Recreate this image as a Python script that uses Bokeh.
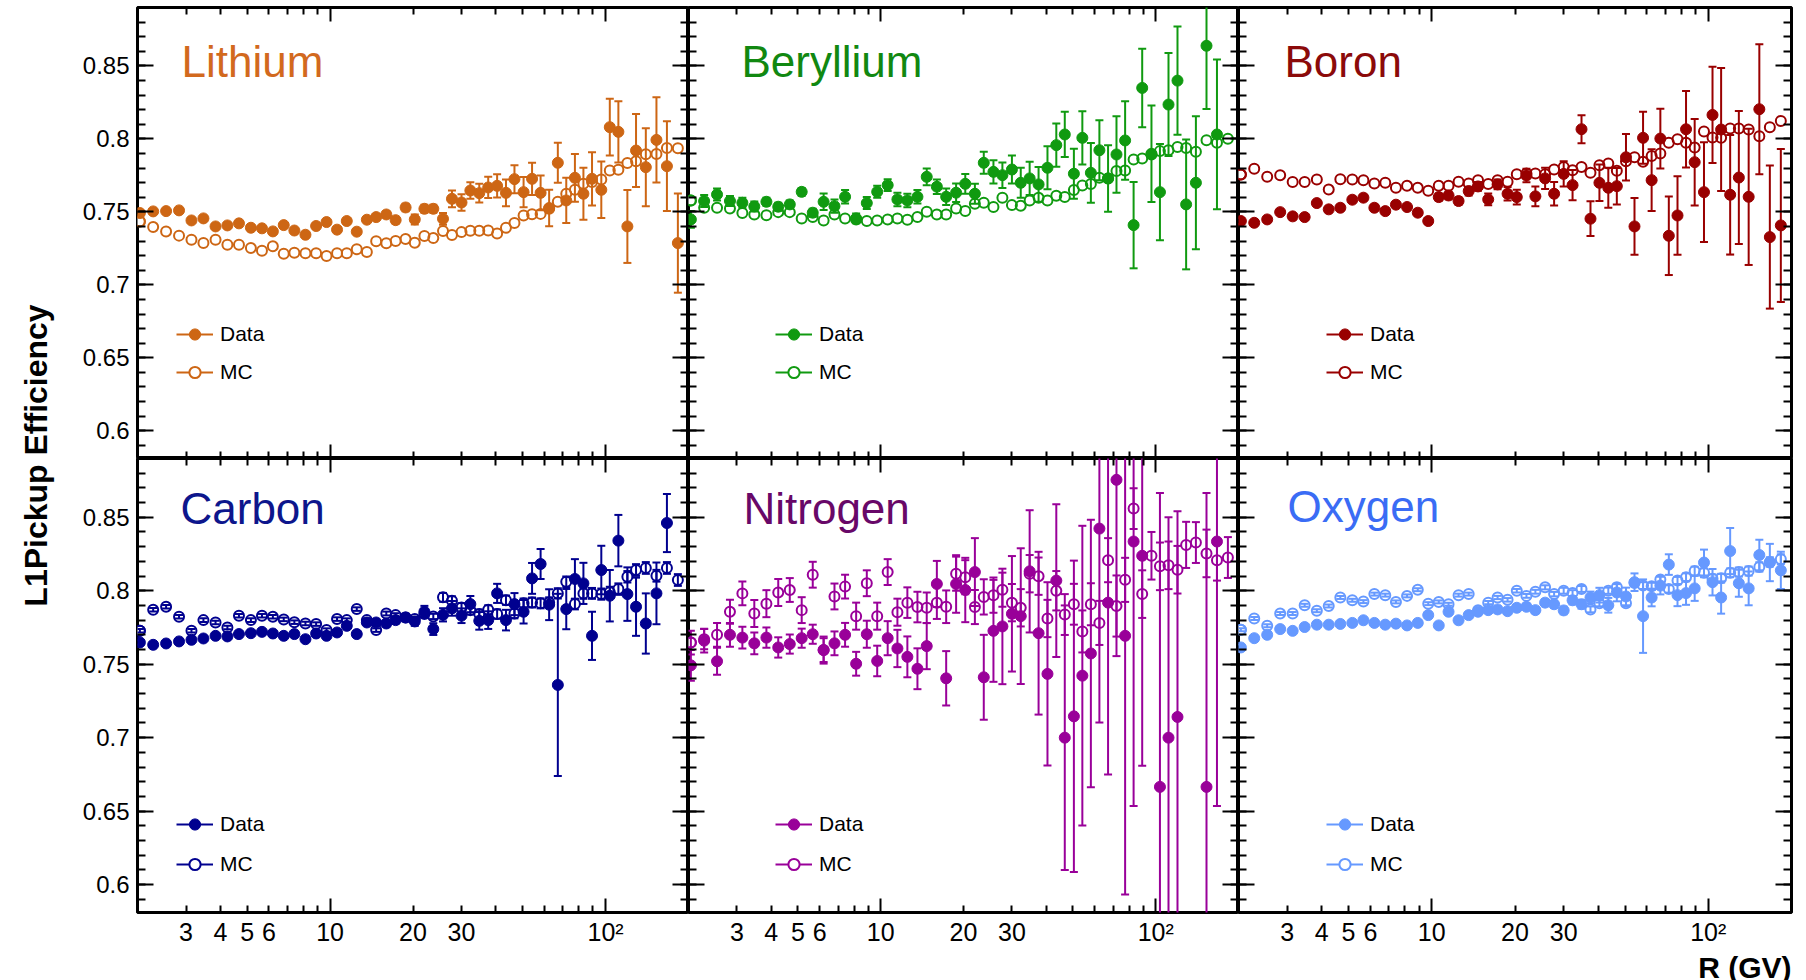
import math
import numpy as np
from bokeh.plotting import figure
from bokeh.layouts import gridplot, row
from bokeh.models import (LogAxis, LinearAxis, FixedTicker, Range1d, Legend,
                          LegendItem, Title, AllLabels)
from bokeh.core.properties import value
from bokeh.embed import file_html
from bokeh.resources import INLINE

nan = float("nan")

# ---------------- data ----------------
R = [2.04, 2.28, 2.54, 2.83, 3.14, 3.47, 3.84, 4.24, 4.67, 5.16,
     5.66, 6.20, 6.79, 7.42, 8.14, 8.90, 9.71, 10.6, 11.5, 12.5,
     13.6, 14.7, 16.0, 17.3, 18.8, 20.3, 22.0, 23.7, 25.7, 27.7,
     30.0, 32.3, 34.8, 37.5, 40.4, 43.5, 46.7, 50.4, 54.1, 58.1,
     62.4, 67.1, 72.0, 77.4, 83.1, 89.3, 96.5, 103.6, 111.3, 120,
     129, 140, 153, 167, 183]

li_mc = [0.7434, 0.7396, 0.7366, 0.7337, 0.7309, 0.7286, 0.7309, 0.7275, 0.7275, 0.7252,
         0.7234, 0.7264, 0.7213, 0.7220, 0.7216, 0.7216, 0.7197, 0.7216, 0.7216, 0.7243,
         0.7225, 0.7298, 0.7284, 0.7300, 0.7314, 0.7289, 0.7334, 0.7320, 0.7368, 0.7341,
         0.7361, 0.7370, 0.7370, 0.7372, 0.7352, 0.7391, 0.7423, 0.7475, 0.7484, 0.7486,
         0.7521, 0.7569, 0.7624, 0.7651, 0.7692, 0.7704, 0.7722, 0.7783, 0.7788, 0.7834,
         0.7847, 0.7895, 0.7897, 0.7938, 0.7936]
li_data = [0.7492, 0.7503, 0.7505, 0.7510, 0.7441, 0.7455, 0.7400, 0.7407, 0.7421, 0.7391,
           0.7387, 0.7366, 0.7409, 0.7372, 0.7343, 0.7403, 0.7430, 0.7378, 0.7437, 0.7364,
           0.7446, 0.7464, 0.7482, 0.7443, 0.7530, 0.7448, 0.7521, 0.7521, 0.7452, 0.7589,
           0.7564, 0.7646, 0.7628, 0.7667, 0.7678, 0.7630, 0.7724, 0.7635, 0.7726, 0.7630,
           0.7526, 0.7836, 0.7578, 0.7733, 0.7624, 0.7726, 0.7651, 0.8080, 0.8048, 0.7400,
           0.7920, 0.7806, 0.7993, 0.7813, 0.7286]
li_derr = [0.0016, 0.0015, 0.0015, 0.0015, 0.0015, 0.0015, 0.0015, 0.0015, 0.0015, 0.0015,
           0.0015, 0.0015, 0.0015, 0.0015, 0.0016, 0.0016, 0.0016, 0.0017, 0.0018, 0.0018,
           0.0019, 0.0020, 0.0022, 0.0024, 0.0026, 0.0034, 0.0027, 0.0027, 0.0040, 0.0057,
           0.0057, 0.0057, 0.0064, 0.0073, 0.0080, 0.0091, 0.0096, 0.0103, 0.0110, 0.0119,
           0.0125, 0.0137, 0.0155, 0.0164, 0.0178, 0.0182, 0.0194, 0.0194, 0.0210, 0.0250,
           0.0250, 0.0267, 0.0292, 0.0308, 0.0340]

be_mc = [0.7578, 0.7528, 0.7528, 0.7523, 0.7492, 0.7482, 0.7476, 0.7498, 0.7498, 0.7455,
         0.7464, 0.7441, 0.7482, 0.7455, 0.7448, 0.7437, 0.7441, 0.7448, 0.7455, 0.7446,
         0.7464, 0.7501, 0.7482, 0.7482, 0.7523, 0.7505, 0.7555, 0.7562, 0.7533, 0.7596,
         0.7546, 0.7542, 0.7578, 0.7596, 0.7578, 0.7610, 0.7601, 0.7649, 0.7681, 0.7690,
         0.7733, 0.7729, 0.7779, 0.7783, 0.7859, 0.7865, 0.7893, 0.7916, 0.7922, 0.7945,
         0.7938, 0.7911, 0.7991, 0.7973, 0.8000]
be_data = [0.7448, 0.7574, 0.7619, 0.7574, 0.7562, 0.7537, 0.7569, 0.7535, 0.7551, 0.7637,
           0.7494, 0.7569, 0.7539, 0.7603, 0.7455, 0.7560, 0.7637, 0.7683, 0.7585, 0.7578,
           0.7603, 0.7740, 0.7672, 0.7603, 0.7631, 0.7692, 0.7624, 0.7836, 0.7774, 0.7751,
           0.7790, 0.7699, 0.7729, 0.7688, 0.7802, 0.7957, 0.8030, 0.7761, 0.8007, 0.7767,
           0.7922, 0.7729, 0.7893, 0.7989, 0.7409, 0.8349, 0.7898, 0.7635, 0.8235, 0.8399,
           0.7551, 0.7699, 0.8638, 0.8030, nan]
be_derr = [0.0057, 0.0041, 0.0041, 0.0034, 0.0034, 0.0034, 0.0027, 0.0027, 0.0027, 0.0027,
           0.0027, 0.0057, 0.0046, 0.0046, 0.0034, 0.0041, 0.0041, 0.0041, 0.0046, 0.0046,
           0.0046, 0.0057, 0.0050, 0.0057, 0.0064, 0.0068, 0.0068, 0.0075, 0.0080, 0.0087,
           0.0096, 0.0103, 0.0114, 0.0119, 0.0148, 0.0148, 0.0155, 0.0171, 0.0182, 0.0205,
           0.0205, 0.0228, 0.0262, 0.0269, 0.0296, 0.0269, 0.0330, 0.0330, 0.0353, 0.0370,
           0.0445, 0.0456, 0.0433, 0.0513, nan]

b_mc = [0.7756, 0.7795, 0.7740, 0.7751, 0.7704, 0.7704, 0.7722, 0.7653, 0.7724, 0.7722,
        0.7717, 0.7694, 0.7699, 0.7665, 0.7679, 0.7665, 0.7645, 0.7679, 0.7679, 0.7706,
        0.7694, 0.7717, 0.7690, 0.7717, 0.7706, 0.7758, 0.7763, 0.7763, 0.7758, 0.7790,
        0.7808, 0.7785, 0.7808, 0.7767, 0.7819, 0.7831, 0.7781, 0.7847, 0.7874, 0.7843,
        0.7883, 0.7899, 0.7974, 0.7997, 0.7974, 0.7940, 0.8050, 0.8009, 0.8007, 0.8071,
        0.8071, 0.8064, 0.8018, 0.8080, 0.8123]
b_data = [0.7437, 0.7425, 0.7448, 0.7498, 0.7469, 0.7464, 0.7560, 0.7517, 0.7528, 0.7583,
          0.7597, 0.7528, 0.7505, 0.7549, 0.7533, 0.7494, 0.7437, 0.7601, 0.7612, 0.7574,
          0.7642, 0.7674, 0.7585, 0.7688, 0.7624, 0.7601, 0.7749, 0.7606, 0.7729, 0.7624,
          0.7760, 0.7683, 0.8066, 0.7453, 0.7699, 0.7665, 0.7676, 0.7874, 0.7400, 0.8007,
          0.7717, 0.8002, 0.7336, 0.7475, 0.8066, 0.7840, 0.7635, 0.8164, 0.8064, 0.7617,
          0.7735, 0.7603, 0.8203, 0.7327, 0.7407]
b_derr = [0.0020, 0.0020, 0.0020, 0.0020, 0.0020, 0.0020, 0.0020, 0.0020, 0.0020, 0.0020,
          0.0020, 0.0020, 0.0020, 0.0020, 0.0020, 0.0020, 0.0020, 0.0025, 0.0025, 0.0025,
          0.0030, 0.0030, 0.0040, 0.0034, 0.0046, 0.0050, 0.0046, 0.0068, 0.0073, 0.0080,
          0.0087, 0.0103, 0.0096, 0.0119, 0.0125, 0.0137, 0.0125, 0.0160, 0.0194, 0.0178,
          0.0212, 0.0205, 0.0269, 0.0269, 0.0262, 0.0296, 0.0342, 0.0330, 0.0422, 0.0410,
          0.0456, 0.0467, 0.0445, 0.0490, 0.0524]

c_mc = [0.7727, 0.7870, 0.7891, 0.7823, 0.7727, 0.7800, 0.7784, 0.7750, 0.7830, 0.7800,
        0.7830, 0.7823, 0.7805, 0.7786, 0.7777, 0.7773, 0.7732, 0.7807, 0.7800, 0.7875,
        0.7800, 0.7732, 0.7845, 0.7834, 0.7818, 0.7807, 0.7841, 0.7825, 0.7955, 0.7932,
        0.7886, 0.7868, 0.7841, 0.7870, 0.7841, 0.7936, 0.7845, 0.7914, 0.7920, 0.7914,
        0.7920, 0.7982, 0.8061, 0.7909, 0.7982, 0.7982, 0.7977, 0.7989, 0.8011, 0.8095,
        0.8141, 0.8155, 0.8102, 0.8155, 0.8073]
c_mcerr = [0.0012, 0.0012, 0.0012, 0.0012, 0.0012, 0.0012, 0.0012, 0.0012, 0.0012, 0.0012,
           0.0012, 0.0012, 0.0012, 0.0012, 0.0012, 0.0012, 0.0012, 0.0012, 0.0012, 0.0012,
           0.0012, 0.0012, 0.0013, 0.0013, 0.0014, 0.0015, 0.0016, 0.0018, 0.0030, 0.0030,
           0.0030, 0.0030, 0.0031, 0.0031, 0.0032, 0.0032, 0.0033, 0.0033, 0.0034, 0.0034,
           0.0035, 0.0035, 0.0036, 0.0036, 0.0037, 0.0037, 0.0038, 0.0038, 0.0039, 0.0039,
           0.0040, 0.0040, 0.0040, 0.0040, 0.0040]
c_data = [0.7648, 0.7632, 0.7641, 0.7655, 0.7666, 0.7675, 0.7693, 0.7689, 0.7705, 0.7711,
          0.7720, 0.7709, 0.7693, 0.7705, 0.7670, 0.7709, 0.7693, 0.7716, 0.7761, 0.7705,
          0.7784, 0.7784, 0.7777, 0.7800, 0.7818, 0.7791, 0.7857, 0.7739, 0.7836, 0.7880,
          0.7830, 0.7909, 0.7795, 0.7800, 0.7982, 0.7800, 0.7909, 0.7857, 0.8084, 0.8182,
          0.7905, 0.7359, 0.7875, 0.8080, 0.8050, 0.7693, 0.8141, 0.7966, 0.8341, 0.7977,
          0.7891, 0.7777, 0.7982, 0.8461, nan]
c_derr = [0.0015, 0.0015, 0.0015, 0.0015, 0.0015, 0.0015, 0.0015, 0.0015, 0.0015, 0.0015,
          0.0015, 0.0015, 0.0015, 0.0015, 0.0016, 0.0016, 0.0016, 0.0017, 0.0018, 0.0018,
          0.0019, 0.0020, 0.0022, 0.0024, 0.0026, 0.0030, 0.0040, 0.0040, 0.0045, 0.0050,
          0.0050, 0.0055, 0.0060, 0.0060, 0.0065, 0.0070, 0.0075, 0.0080, 0.0105, 0.0102,
          0.0105, 0.0620, 0.0137, 0.0135, 0.0140, 0.0164, 0.0165, 0.0175, 0.0175, 0.0182,
          0.0198, 0.0205, 0.0210, 0.0198, nan]

n_mc = [0.7647, 0.7670, 0.7700, 0.7857, 0.7982, 0.7845, 0.7912, 0.7988, 0.8005, 0.7868,
        0.8109, 0.7596, 0.7961, 0.8028, 0.7827, 0.8051, 0.7827, 0.8127, 0.7854, 0.7919,
        0.7889, 0.7884, 0.7919, 0.7891, 0.8116, 0.8092, 0.7889, 0.7958, 0.7970, 0.8007,
        0.7919, 0.7884, 0.8116, 0.8099, 0.7811, 0.8000, 0.7838, 0.7908, 0.7723, 0.7908,
        0.7781, 0.8208, 0.7896, 0.8074, 0.8559, 0.7977, 0.8238, 0.8166, 0.8173, 0.8143,
        0.8312, 0.8328, 0.8254, 0.8208, 0.8226]
n_mcerr = [0.0081, 0.0069, 0.0081, 0.0081, 0.0081, 0.0092, 0.0092, 0.0092, 0.0081, 0.0088,
           0.0088, 0.0081, 0.0088, 0.0081, 0.0092, 0.0088, 0.0092, 0.0088, 0.0092, 0.0104,
           0.0104, 0.0104, 0.0111, 0.0111, 0.0116, 0.0116, 0.0116, 0.0120, 0.0120, 0.0116,
           0.0127, 0.0127, 0.0127, 0.0127, 0.0127, 0.0134, 0.0139, 0.0139, 0.0143, 0.0143,
           0.0150, 0.0150, 0.0208, 0.0150, 0.0139, 0.0162, 0.0162, 0.0162, 0.0162, 0.0162,
           0.0157, 0.0139, 0.0162, 0.0139, 0.0139]
n_data = [0.7492, 0.7660, 0.7520, 0.7700, 0.7681, 0.7642, 0.7681, 0.7614, 0.7637, 0.7677,
          0.7704, 0.7596, 0.7642, 0.7700, 0.7503, 0.7704, 0.7522, 0.7677, 0.7607, 0.7550,
          0.7469, 0.7623, 0.8046, 0.7404, 0.8046, 0.8005, 0.8127, 0.7411, 0.7727, 0.7757,
          0.7843, 0.7827, 0.8132, 0.7711, 0.7434, 0.8069, 0.7000, 0.7145, 0.7422, 0.7573,
          0.8423, 0.7919, 0.8755, 0.7693, 0.8335, 0.8238, nan, 0.6665, 0.7000, 0.7141,
          nan, nan, 0.6665, 0.8335, nan]
n_derr = [0.0104, 0.0081, 0.0092, 0.0081, 0.0074, 0.0074, 0.0069, 0.0069, 0.0065, 0.0065,
          0.0065, 0.0092, 0.0081, 0.0081, 0.0081, 0.0092, 0.0104, 0.0116, 0.0127, 0.0139,
          0.0139, 0.0157, 0.0157, 0.0185, 0.0196, 0.0219, 0.0231, 0.0289, 0.0347, 0.0393,
          0.0393, 0.0462, 0.0416, 0.0554, 0.0624, 0.0520, 0.0900, 0.1060, 0.1020, 0.0910,
          0.1320, 0.1170, 0.1200, 0.1760, 0.1800, 0.1430, nan, 0.2000, 0.1500, 0.1400,
          nan, nan, 0.2000, 0.1800, nan]

o_mc = [0.7734, 0.7811, 0.7762, 0.7845, 0.7845, 0.7901, 0.7864, 0.7896, 0.7954, 0.7935,
        0.7926, 0.7977, 0.7970, 0.7924, 0.7965, 0.8007, 0.7912, 0.7924, 0.7908, 0.7970,
        0.7977, 0.7868, 0.7919, 0.7954, 0.7938, 0.8000, 0.7965, 0.7993, 0.8023, 0.7977,
        0.8000, 0.7984, 0.8012, 0.7873, 0.7915, 0.8000, 0.8023, 0.7915, 0.8053, 0.8035,
        0.8030, 0.8076, 0.8012, 0.8069, 0.8092, 0.8134, 0.8122, 0.8081, 0.8085, 0.8122,
        0.8127, 0.8134, 0.8162, 0.8196, 0.8215]
o_mcerr = [0.0010, 0.0010, 0.0010, 0.0010, 0.0010, 0.0010, 0.0010, 0.0010, 0.0010, 0.0010,
           0.0010, 0.0010, 0.0010, 0.0010, 0.0010, 0.0010, 0.0010, 0.0010, 0.0010, 0.0010,
           0.0010, 0.0010, 0.0011, 0.0011, 0.0012, 0.0012, 0.0013, 0.0013, 0.0014, 0.0015,
           0.0020, 0.0020, 0.0020, 0.0020, 0.0021, 0.0021, 0.0022, 0.0022, 0.0023, 0.0023,
           0.0024, 0.0024, 0.0025, 0.0025, 0.0026, 0.0030, 0.0030, 0.0030, 0.0030, 0.0030,
           0.0031, 0.0031, 0.0032, 0.0032, 0.0033]
o_data = [0.7614, 0.7677, 0.7700, 0.7739, 0.7727, 0.7753, 0.7769, 0.7769, 0.7774, 0.7781,
          0.7799, 0.7781, 0.7769, 0.7776, 0.7764, 0.7781, 0.7834, 0.7764, 0.7857, 0.7799,
          0.7834, 0.7857, 0.7868, 0.7873, 0.7861, 0.7884, 0.7891, 0.7868, 0.7919, 0.7908,
          0.7866, 0.7935, 0.7908, 0.7954, 0.7970, 0.7901, 0.7988, 0.7961, 0.8058, 0.7827,
          0.7954, 0.8035, 0.8178, 0.7970, 0.7984, 0.8016, 0.8192, 0.8058, 0.7954, 0.8270,
          0.8051, 0.8016, 0.8243, 0.8192, 0.8139]
o_derr = [0.0020, 0.0018, 0.0018, 0.0018, 0.0018, 0.0018, 0.0018, 0.0018, 0.0018, 0.0018,
          0.0018, 0.0018, 0.0018, 0.0018, 0.0018, 0.0018, 0.0018, 0.0018, 0.0018, 0.0018,
          0.0018, 0.0018, 0.0020, 0.0020, 0.0020, 0.0020, 0.0022, 0.0022, 0.0024, 0.0024,
          0.0026, 0.0028, 0.0030, 0.0040, 0.0050, 0.0050, 0.0060, 0.0060, 0.0060, 0.0250,
          0.0060, 0.0060, 0.0070, 0.0075, 0.0080, 0.0085, 0.0088, 0.0090, 0.0110, 0.0157,
          0.0092, 0.0115, 0.0104, 0.0127, 0.0127]

names = ["Lithium", "Beryllium", "Boron", "Carbon", "Nitrogen", "Oxygen"]
series_data = [li_data, be_data, b_data, c_data, n_data, o_data]
series_derr = [li_derr, be_derr, b_derr, c_derr, n_derr, o_derr]
series_mc = [li_mc, be_mc, b_mc, c_mc, n_mc, o_mc]
series_mcerr = [None, None, None, c_mcerr, n_mcerr, o_mcerr]
legend_labels = ["Data", "MC"]

x_major = [10, 100]
x_minor = [2, 3, 4, 5, 6, 7, 8, 9, 20, 30, 40, 50, 60, 70, 80, 90, 200]
x_label_ticks = [3, 4, 5, 6, 10, 20, 30, 100]
x_label_text = {3: "3", 4: "4", 5: "5", 6: "6", 10: "10", 20: "20", 30: "30", 100: "10²"}
y_major = [0.6, 0.65, 0.7, 0.75, 0.8, 0.85]
y_label_text = {0.6: "0.6", 0.65: "0.65", 0.7: "0.7", 0.75: "0.75", 0.8: "0.8", 0.85: "0.85"}

# ---------------- style ----------------
FONT = "Liberation Sans"
marker_colors = ["#cd6614", "#109a10", "#990000", "#00008f", "#990099", "#6699ff"]
title_colors = ["#d2691e", "#118811", "#8b0a0a", "#0d168c", "#680868", "#3a6cf5"]
XMIN, XMAX = 2.0, 200.0
YMIN, YMAX = 0.581, 0.89
FW = [551, 550, 553]
FH = [451, 454]
y_minor = [round(0.58 + 0.01 * i, 2) for i in range(32)]

title_dx = [44, 53, 46, 43, 55, 49]
title_dy = [54, 54, 54, 50, 50, 48]
legend_dx = [39, 87, 88, 39, 87, 88]


def hide_labels(ax):
    ax.major_label_text_font_size = "0px"
    ax.major_label_text_color = None
    ax.major_label_standoff = 0


def tick_axis(kind, major_len, minor_len):
    if kind == "x":
        ax = LogAxis(ticker=FixedTicker(ticks=x_major, minor_ticks=x_minor))
    else:
        ax = LinearAxis(ticker=FixedTicker(ticks=y_major, minor_ticks=y_minor))
    ax.axis_line_color = None
    ax.major_tick_in = major_len
    ax.major_tick_out = 0
    ax.minor_tick_in = minor_len
    ax.minor_tick_out = 0
    ax.major_tick_line_color = "black"
    ax.major_tick_line_width = 2
    ax.minor_tick_line_color = "black"
    ax.minor_tick_line_width = 2
    return ax


def px_to_x(dx, fw):
    return 10 ** (math.log10(XMIN) + dx / fw * (math.log10(XMAX) - math.log10(XMIN)))


def px_to_y(dy, fh):
    return YMAX - dy / fh * (YMAX - YMIN)


def errbars(p, xs, ys, es, color):
    y = np.array(ys, dtype=float)
    e = np.array(es, dtype=float)
    lo = y - e
    hi = y + e
    p.segment(x0=xs, y0=lo, x1=xs, y1=hi, line_color=color, line_width=2)
    p.scatter(x=xs, y=hi, marker="dash", size=8, line_color=color, line_width=2)
    p.scatter(x=xs, y=lo, marker="dash", size=8, line_color=color, line_width=2)


panels = []
for i, name in enumerate(names):
    r, c = divmod(i, 3)
    col = marker_colors[i]
    p = figure(frame_width=FW[c], frame_height=FH[r], x_axis_type="log",
               x_range=Range1d(XMIN, XMAX), y_range=Range1d(YMIN, YMAX),
               x_axis_location=None, y_axis_location=None,
               toolbar_location=None, output_backend="svg",
               min_border_left=67 if c == 0 else 0,
               min_border_right=15 if c == 2 else 0,
               min_border_top=7 if r == 0 else 0,
               min_border_bottom=68 if r == 1 else 0,
               outline_line_color="black", outline_line_width=3,
               background_fill_color="white", border_fill_color="white")
    p.grid.visible = False

    # y axis (left)
    ly = tick_axis("y", 16, 8)
    if c == 0:
        ly.major_label_overrides = y_label_text
        ly.major_label_text_font = FONT
        ly.major_label_text_font_size = "24px"
        ly.major_label_text_color = "black"
        ly.major_label_standoff = 8
        ly.major_label_policy = AllLabels()
    else:
        hide_labels(ly)
    p.add_layout(ly, "left")
    ry = tick_axis("y", 16, 8)
    hide_labels(ry)
    p.add_layout(ry, "right")

    tx = tick_axis("x", 14, 7)
    hide_labels(tx)
    p.add_layout(tx, "above")
    bx = tick_axis("x", 14, 7)
    hide_labels(bx)
    p.add_layout(bx, "below")
    if r == 1:
        lab = LogAxis(ticker=FixedTicker(ticks=x_label_ticks, minor_ticks=[]))
        lab.axis_line_color = None
        lab.major_tick_line_color = None
        lab.minor_tick_line_color = None
        lab.major_tick_in = 0
        lab.major_tick_out = 0
        lab.minor_tick_in = 0
        lab.minor_tick_out = 0
        lab.major_label_overrides = x_label_text
        lab.major_label_text_font = FONT
        lab.major_label_text_font_size = "25px"
        lab.major_label_text_color = "black"
        lab.major_label_standoff = 5
        lab.major_label_policy = AllLabels()
        p.add_layout(lab, "below")
        if c == 2:
            t = Title(text="R (GV)", align="right", text_font=FONT,
                      text_font_size="30px", text_font_style="bold",
                      text_color="black", standoff=0)
            p.add_layout(t, "below")

    # legend helper marks (one point each, drawn first)
    m2 = p.scatter(x=R[:1], y=series_mc[i][:1], marker="circle", size=10,
                   fill_color="white", line_color=col, line_width=2)
    l1 = p.line(x=R[:1], y=series_data[i][:1], line_color=col, line_width=2)
    l2 = p.line(x=R[:1], y=series_mc[i][:1], line_color=col, line_width=2)

    # MC series
    if series_mcerr[i] is not None:
        errbars(p, R, series_mc[i], series_mcerr[i], col)
    p.scatter(x=R, y=series_mc[i], marker="circle", size=10, fill_color=None,
              line_color=col, line_width=2)
    # Data series
    errbars(p, R, series_data[i], series_derr[i], col)
    m1 = p.scatter(x=R, y=series_data[i], marker="circle", size=11, fill_color=col,
                   line_color=col, line_width=1)

    # element name
    p.text(x=[px_to_x(title_dx[i], FW[c])], y=[px_to_y(title_dy[i], FH[r])],
           text=[name], text_font=value(FONT), text_font_size="44px",
           text_color=title_colors[i], text_align="left", text_baseline="alphabetic")

    # legend
    leg = Legend(items=[LegendItem(label=legend_labels[0], renderers=[l1, m1]),
                        LegendItem(label=legend_labels[1], renderers=[l2, m2])],
                 location=(legend_dx[i], 72 if r == 0 else 34),
                 border_line_color=None, background_fill_alpha=0,
                 padding=0, margin=0, spacing=10 if r == 0 else 12,
                 glyph_width=37, glyph_height=28, label_height=28,
                 label_standoff=7, label_text_font=FONT,
                 label_text_font_size="21px", label_text_color="black")
    p.add_layout(leg)
    panels.append(p)

grid = gridplot([panels[:3], panels[3:]], toolbar_location=None)

lf = figure(width=70, height=980, x_range=Range1d(0, 1), y_range=Range1d(0, 1),
            toolbar_location=None, output_backend="svg", min_border=0,
            outline_line_color=None, x_axis_location=None, y_axis_location=None)
lf.grid.visible = False
lf.text(x=[35 / 70], y=[1 - 455 / 980], text=["L1Pickup Efficiency"], angle=math.pi / 2,
        text_align="center", text_baseline="middle", text_font=value(FONT),
        text_font_size="32px", text_font_style="bold", text_color="black")

layout = row(lf, grid)
open("out.html", "w").write(file_html(layout, INLINE))
